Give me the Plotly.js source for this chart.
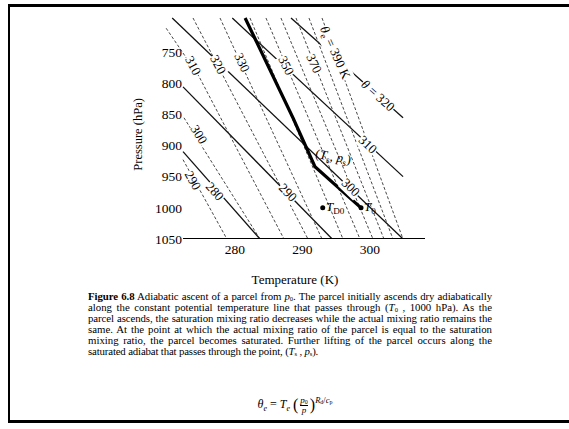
<!DOCTYPE html>
<html><head><meta charset="utf-8">
<script src="https://cdn.plot.ly/plotly-3.0.1.min.js"></script>
<style>
html,body{margin:0;padding:0;background:#fff;}
#wrap{position:relative;width:569px;height:429px;overflow:hidden;background:#fff;}
#chart{position:absolute;left:0;top:0;width:569px;height:429px;}
.frame{position:absolute;background:#000;}
#caption{position:absolute;left:88px;top:290.5px;width:404px;font-family:"Liberation Serif","Times New Roman",serif;font-size:10.8px;line-height:11px;color:#000;}
#caption div{white-space:nowrap;height:11px;}
#caption sub{display:inline-block;font-size:6.5px;line-height:6px;height:6px;vertical-align:-1px;}
#formula{position:absolute;left:230px;top:396px;width:130px;text-align:center;font-family:"Liberation Serif","Times New Roman",serif;font-size:12px;line-height:14px;color:#000;white-space:nowrap;}
#formula sub,#formula sup{line-height:0;}
.frac{display:inline-block;vertical-align:middle;text-align:center;font-size:9px;line-height:8.5px;margin:0 2px;}
.frac span{display:block;}
.frac span.num{border-bottom:1px solid #000;}
</style></head>
<body>
<div id="wrap">
<div id="chart"></div>
<div class="frame" style="left:8px;top:4px;width:561px;height:3px;"></div>
<div class="frame" style="left:8px;top:4px;width:2px;height:419px;"></div>
<div class="frame" style="left:8px;top:420px;width:561px;height:3px;"></div>
<div id="caption">
<div><span class="ln"><b>Figure 6.8</b> Adiabatic ascent of a parcel from <i>p</i><sub>0</sub>. The parcel initially ascends dry adiabatically</span></div>
<div><span class="ln">along the constant potential temperature line that passes through (<i>T</i><sub>0</sub> , 1000 hPa). As the</span></div>
<div><span class="ln">parcel ascends, the saturation mixing ratio decreases while the actual mixing ratio remains the</span></div>
<div><span class="ln">same. At the point at which the actual mixing ratio of the parcel is equal to the saturation</span></div>
<div><span class="ln">mixing ratio, the parcel becomes saturated. Further lifting of the parcel occurs along the</span></div>
<div><span class="ln last">saturated adiabat that passes through the point, (<i>T</i><sub>s</sub> , <i>p</i><sub>s</sub>).</span></div>
</div>
<div id="formula"><i>θ</i><sub style="font-size:8px"><i>e</i></sub> = <i>T</i><sub style="font-size:8px"><i>e</i></sub> <span style="font-size:16px;vertical-align:middle;line-height:14px">(</span><span class="frac"><span class="num"><i>p</i><sub style="font-size:6px;vertical-align:-1px">0</sub></span><span><i>p</i></span></span><span style="font-size:16px;vertical-align:middle;line-height:14px">)</span><sup style="font-size:8.5px;vertical-align:5px"><i>R</i><sub style="font-size:6px;vertical-align:-1px">d</sub>/<i>c</i><sub style="font-size:6px;vertical-align:-1px">p</sub></sup></div>
</div>
<script>
// ---- data ----
// dry adiabats (potential temperature, K): temperature (K) / pressure (hPa) points
const dryTheta = [280, 290, 300, 310, 320];
const dryT = [[272.3, 283.7], [272.3, 294.4], [270.7, 304.9], [279.6, 304.9], [288.3, 304.9]];
const dryP = [[910, 1050], [806, 1050], [695.6, 1050], [695.6, 950], [695.6, 855.6]];

// saturated adiabats (equivalent potential temperature, K)
const moistThetaE = [290, 300, 310, 320, 330, 340, 350, 360, 370, 380, 390];
const moistT = [[272.3, 278.8], [272.44, 283.7], [269.8, 274.7, 287.26], [273.78, 290.81], [277.78, 292.89],
                [282.22, 296.0], [284.59, 298.52], [286.81, 300.44], [289.04, 302.07], [290.96, 303.41], [292.89, 304.89]];
const moistP = [[922.8, 1050], [855.6, 1050], [712, 790, 1050], [695.6, 1050], [695.6, 1050],
                [695.6, 1050], [695.6, 1050], [695.6, 1050], [695.6, 1050], [695.6, 1050], [695.6, 1050]];

// parcel path: T0 -> (Ts, ps) -> along saturated adiabat
const parcelT = [298.67, 291.85, 288.6, 281.5];
const parcelP = [1000, 934, 856, 695.6];

// surface points
const pointNames = ['T_D0', 'T_0'];
const pointT = [293.0, 298.67];
const pointP = [1000, 1000];

const xTicks = [280, 290, 300];
const yTicks = [750, 800, 850, 900, 950, 1000, 1050];
const xAxisSpan = [272.3, 308.15];

// ---- traces ----
const serif = '"Liberation Serif", "Times New Roman", serif';
const traces = [];
dryTheta.forEach((th, i) => traces.push({
  type: 'scatter', mode: 'lines', name: 'θ = ' + th + ' K',
  x: dryT[i], y: dryP[i], line: {color: '#111', width: 1.3}, hoverinfo: 'skip'
}));
moistThetaE.forEach((th, i) => traces.push({
  type: 'scatter', mode: 'lines', name: 'θe = ' + th + ' K',
  x: moistT[i], y: moistP[i], line: {color: '#333', width: 0.9, dash: '3px,2px'}, hoverinfo: 'skip'
}));
traces.push({type: 'scatter', mode: 'lines', name: 'parcel', x: parcelT, y: parcelP,
  line: {color: '#000', width: 3.2}, hoverinfo: 'skip'});
traces.push({type: 'scatter', mode: 'markers', name: 'points', x: pointT, y: pointP,
  marker: {color: '#000', size: 5}, hoverinfo: 'skip'});

function lab(x, y, text, angle, size) {
  return {x: x, y: y, xref: 'x', yref: 'y', text: text, showarrow: false, textangle: angle,
    bgcolor: 'white', borderpad: 0, font: {family: serif, size: size || 13, color: '#000'}};
}
const annotations = [
  lab(273.78, 956.4, '290', 61),
  lab(274.67, 882.8, '300', 58),
  lab(273.78, 772.4, '310', 62),
  lab(277.48, 770.8, '320', 62),
  lab(281.04, 767.6, '330', 65),
  lab(287.56, 772.4, '350', 64),
  lab(291.70, 769.2, '370', 65),
  lab(294.67, 751.6, '<i>θ</i><sub>e</sub> = 390 K', 66),
  lab(277.04, 974, '280', 48),
  lab(287.85, 975.6, '290', 46),
  lab(297.19, 967.6, '300', 44),
  lab(299.70, 898.8, '310', 43),
  lab(301.19, 820.4, '<i>θ</i> = 320', 42),
  Object.assign(lab(294.52, 919.6, '(<i>T</i><sub>s</sub>, <i>p</i><sub>s</sub>)', 10), {bgcolor: 'rgba(0,0,0,0)'}),
  Object.assign(lab(293.35, 1000, '<i>T</i><sub>D0</sub>', 0), {xanchor: 'left', bgcolor: 'rgba(0,0,0,0)'}),
  Object.assign(lab(299.0, 1000, '<i>T</i><sub>0</sub>', 0), {xanchor: 'left', bgcolor: 'rgba(0,0,0,0)'}),
  {x: -0.104, y: 0.47, xref: 'paper', yref: 'paper', xanchor: 'center', yanchor: 'middle',
   text: 'Pressure (hPa)', showarrow: false,
   textangle: -90, font: {family: serif, size: 12.5, color: '#000'}}
];

const layout = {
  width: 569, height: 429,
  margin: {l: 165, r: 144, t: 15, b: 189.5, pad: 0},
  paper_bgcolor: 'rgba(0,0,0,0)', plot_bgcolor: 'rgba(0,0,0,0)',
  showlegend: false,
  font: {family: serif, color: '#000'},
  xaxis: {
    range: [269.63, 308.15], tickvals: xTicks, ticktext: xTicks.map(String),
    showline: false, ticks: '', showgrid: false, zeroline: false,
    tickfont: {family: serif, size: 13.5, color: '#000'},
    title: {text: 'Temperature (K)', font: {family: serif, size: 13, color: '#000'}, standoff: 19}
  },
  yaxis: {
    range: [1050, 690.8], tickvals: yTicks, ticktext: yTicks.map(String),
    showline: false, ticks: '', showgrid: false, zeroline: false, ticklabelstandoff: -18,
    tickfont: {family: serif, size: 13.5, color: '#000'}
  },
  shapes: [{type: 'line', xref: 'x', yref: 'y', x0: xAxisSpan[0], x1: xAxisSpan[1], y0: 1050, y1: 1050,
            line: {color: '#000', width: 2}}],
  annotations: annotations
};
Plotly.newPlot('chart', traces, layout, {staticPlot: true, displayModeBar: false});

// justify caption lines to the full column width
function justify() {
  const target = 404;
  document.querySelectorAll('#caption .ln').forEach(s => {
    if (s.classList.contains('last')) { s.style.letterSpacing = '-0.15px'; return; }
    const txt = s.textContent;
    const spaces = (txt.match(/ /g) || []).length;
    let w = s.getBoundingClientRect().width;
    if (w > target - spaces * 0.5) {
      const ls = (target - spaces * 0.5 - w) / txt.length;
      s.style.letterSpacing = ls + 'px';
      w = s.getBoundingClientRect().width;
    }
    s.style.wordSpacing = ((target - w) / spaces) + 'px';
  });
}
if (document.fonts && document.fonts.ready) document.fonts.ready.then(justify); else justify();
</script>
</body></html>
